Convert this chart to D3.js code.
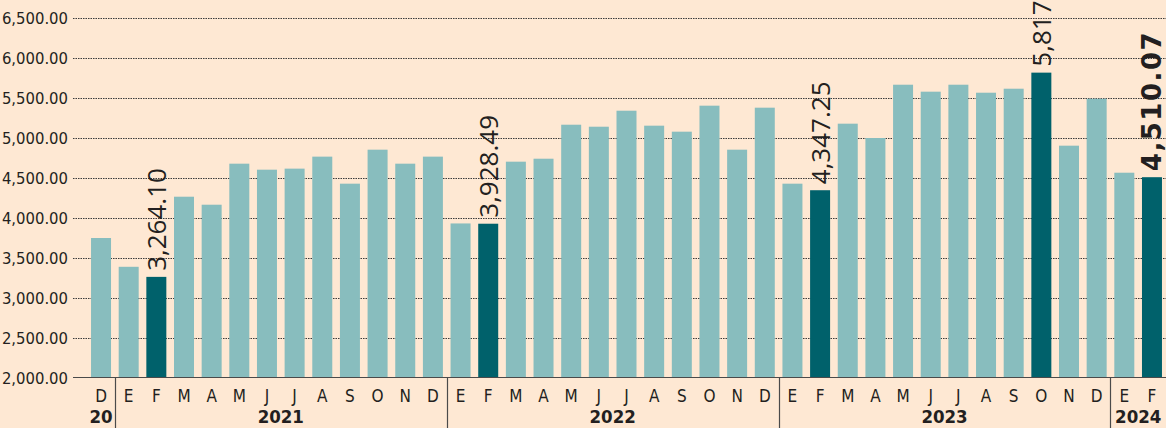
<!DOCTYPE html>
<html>
<head>
<meta charset="utf-8">
<script src="https://cdn.jsdelivr.net/npm/d3@7"></script>
<style>
  html, body { margin: 0; padding: 0; background: #fee8d3; }
  svg { display: block; }
</style>
</head>
<body>
<svg id="chart" width="1166" height="428"></svg>
<script>
const monthLabels = ["D","E","F","M","A","M","J","J","A","S","O","N","D","E","F","M","A","M","J","J","A","S","O","N","D","E","F","M","A","M","J","J","A","S","O","N","D","E","F"];
const yearLabels = ["20","2021","2022","2023","2024"];
const yearCounts = [1, 12, 12, 12, 2];
const values = [3750, 3390, 3264.10, 4266, 4166, 4679, 4604, 4617, 4767, 4429, 4854, 4679, 4767,
                3932, 3928.49, 4704, 4741, 5166, 5141, 5341, 5154, 5079, 5404, 4854, 5379,
                4429, 4347.25, 5179, 5000, 5666, 5579, 5666, 5566, 5616, 5817, 4904, 5491,
                4566, 4510.07];
const highlightIndex = [2, 14, 26, 34, 38];
const highlightLabels = ["3,264.10", "3,928.49", "4,347.25", "5,817", "4,510.07"];
const yTicks = [2000, 2500, 3000, 3500, 4000, 4500, 5000, 5500, 6000, 6500];

const W = 1166, H = 428;
const svg = d3.select("#chart");
const ink = "#231f20";
const lightBar = "#88bdbe";
const darkBar = "#00616b";

const x = d3.scaleBand().domain(d3.range(values.length)).range([87.2, 1165.8])
  .paddingInner(0.277).paddingOuter(0.1385);
const y = d3.scaleLinear().domain([2000, 6500]).range([378, 18]);
const px = v => Math.round(y(v)) + 0.5;

const narrow = "'Liberation Sans Narrow', 'DejaVu Sans Condensed', 'Roboto Condensed', sans-serif";

// gridlines
svg.append("g").selectAll("line").data(yTicks.slice(1)).join("line")
  .attr("x1", 73).attr("x2", W)
  .attr("y1", d => px(d)).attr("y2", d => px(d))
  .attr("stroke", "#3a3a3a").attr("stroke-width", 1).attr("stroke-dasharray", "1.5,1");

// tick labels
svg.append("g").selectAll("text").data(yTicks).join("text")
  .attr("x", 68).attr("y", d => y(d)).attr("dy", "0.36em")
  .attr("text-anchor", "end")
  .attr("font-family", narrow).attr("font-size", 16.5).attr("fill", ink)
  .text(d => d3.format(",.2f")(d));

// bars
svg.append("g").selectAll("rect").data(values).join("rect")
  .attr("x", (d, i) => x(i)).attr("width", x.bandwidth())
  .attr("y", d => y(d)).attr("height", d => y(2000) - y(d))
  .attr("fill", (d, i) => highlightIndex.includes(i) ? darkBar : lightBar);

// baseline
svg.append("line").attr("x1", 73).attr("x2", W).attr("y1", 377.5).attr("y2", 377.5)
  .attr("stroke", "#4a4a4a").attr("stroke-width", 1.2);

// value labels
highlightIndex.forEach((idx, k) => {
  const last = k === highlightIndex.length - 1;
  const cx = x(idx) + x.bandwidth() / 2;
  const cy = y(values[idx]) - 6;
  svg.append("text")
    .attr("transform", `translate(${cx + 9.5},${cy}) rotate(-90)`)
    .attr("font-family", last ? "'DejaVu Sans', sans-serif" : "'Open Sans', 'DejaVu Sans', sans-serif")
    .attr("font-weight", last ? 700 : 400)
    .attr("font-size", 26)
    .attr("letter-spacing", last ? 1.5 : 0)
    .attr("fill", ink)
    .text(highlightLabels[k]);
});

// month labels
svg.append("g").selectAll("text").data(monthLabels).join("text")
  .attr("x", (d, i) => x(i) + x.bandwidth() / 2).attr("y", 402)
  .attr("text-anchor", "middle")
  .attr("font-family", narrow).attr("font-size", 17).attr("fill", ink)
  .text(d => d);

// year separators & labels
let start = 0;
const step = x.step();
yearCounts.forEach((c, k) => {
  const x0 = x(start) - (step - x.bandwidth()) / 2;
  const x1 = k === yearCounts.length - 1 ? W : x(start + c - 1) + x.bandwidth() + (step - x.bandwidth()) / 2;
  if (k > 0) {
    svg.append("line").attr("x1", Math.round(x0) + 0.5).attr("x2", Math.round(x0) + 0.5)
      .attr("y1", 378).attr("y2", H).attr("stroke", "#4a4a4a").attr("stroke-width", 1.2);
  }
  const mid = k === 0 ? x(0) + x.bandwidth() / 2 : (x0 + x1) / 2;
  svg.append("text").attr("x", mid).attr("y", 423)
    .attr("text-anchor", "middle")
    .attr("font-family", narrow).attr("font-weight", 700).attr("font-size", 18.5).attr("fill", ink)
    .text(yearLabels[k]);
  start += c;
});
</script>
</body>
</html>
